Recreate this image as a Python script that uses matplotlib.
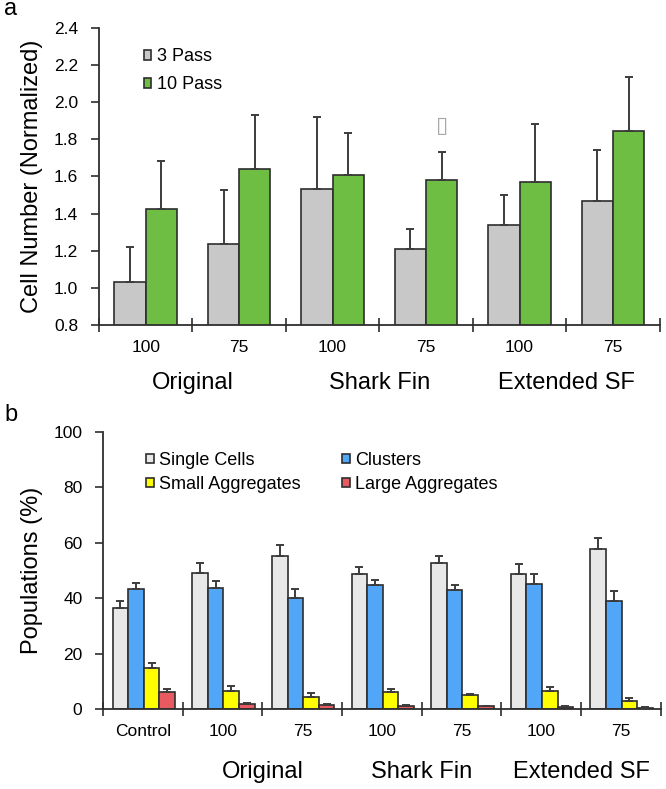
import matplotlib
matplotlib.use('Agg')
import matplotlib.pyplot as plt
from matplotlib.ticker import FixedLocator
import numpy as np

# ---- panel a data ----
a_ticks = ['100', '75', '100', '75', '100', '75']
a_groups = ['Original', 'Shark Fin', 'Extended SF']
pass3 = [1.03, 1.234, 1.53, 1.207, 1.339, 1.465]
pass3_err = [0.19, 0.29, 0.387, 0.112, 0.158, 0.277]
pass10 = [1.423, 1.641, 1.607, 1.578, 1.571, 1.845]
pass10_err = [0.26, 0.289, 0.225, 0.155, 0.31, 0.288]

# ---- panel b data ----
b_ticks = ['Control', '100', '75', '100', '75', '100', '75']
b_groups = ['Original', 'Shark Fin', 'Extended SF']
single = [36.3, 49.0, 55.0, 48.6, 52.8, 48.6, 57.7]
single_err = [2.8, 3.8, 4.3, 2.7, 2.4, 3.7, 4.0]
clusters = [43.3, 43.75, 39.9, 44.7, 42.8, 45.2, 39.1]
clusters_err = [2.0, 2.25, 3.4, 1.9, 2.0, 3.4, 3.3]
small_agg = [14.7, 6.6, 4.45, 6.25, 4.9, 6.6, 2.9]
small_agg_err = [2.0, 1.6, 1.45, 0.95, 0.5, 1.2, 1.1]
large_agg = [6.25, 1.7, 1.56, 1.1, 1.1, 0.6, 0.5]
large_agg_err = [0.95, 0.3, 0.15, 0.3, 0.1, 0.4, 0.05]

plt.rcParams['font.family'] = ['Liberation Sans', 'DejaVu Sans']

EDGE = '#2e2e2e'
ERR = '#3c3c3c'


def style_axis(ax, n, ylim, yticks, fmt):
    ax.spines['top'].set_visible(False)
    ax.spines['right'].set_visible(False)
    for s in ('left', 'bottom'):
        ax.spines[s].set_color(EDGE)
        ax.spines[s].set_linewidth(1.3)
    ax.set_xlim(-0.5, n - 0.5)
    ax.set_ylim(*ylim)
    ax.set_yticks(yticks)
    ax.set_yticklabels([fmt.format(v) for v in yticks])
    ax.tick_params(axis='y', direction='out', length=6, width=1.2,
                   color=EDGE, pad=9, labelsize=12.5)
    ax.set_xticks(np.arange(n))
    ax.tick_params(axis='x', which='major', length=0, pad=11, labelsize=12.5)
    ax.xaxis.set_minor_locator(FixedLocator(np.arange(n + 1) - 0.5))
    ax.tick_params(axis='x', which='minor', direction='inout', length=10,
                   width=1.2, color=EDGE)


def bar_series(ax, x, vals, errs, width, color):
    bars = ax.bar(x, vals, width, color=color, edgecolor=EDGE, linewidth=1.2, zorder=2)
    ax.errorbar(x, vals, yerr=[np.zeros(len(vals)), errs], fmt='none',
                ecolor=ERR, elinewidth=1.4, capsize=2.8, capthick=1.4, zorder=3)
    return bars


fig = plt.figure(figsize=(6.66, 7.89), dpi=100)

# ---- panel a ----
ax1 = fig.add_axes([0.1486, 0.588, 0.842, 0.377])
x = np.arange(len(a_ticks))
w = 0.335
h1 = bar_series(ax1, x - w / 2, pass3, pass3_err, w, '#c8c8c8')
h2 = bar_series(ax1, x + w / 2, pass10, pass10_err, w, '#6fbe44')
style_axis(ax1, len(a_ticks), (0.8, 2.4), np.arange(0.8, 2.41, 0.2), '{:.1f}')
ax1.set_xticklabels(a_ticks)
ax1.set_ylabel('Cell Number (Normalized)', fontsize=17)
ax1.yaxis.set_label_coords(-0.1, 0.5)
for i, g in enumerate(a_groups):
    ax1.text(2 * i + 0.5, -0.195, g, transform=ax1.get_xaxis_transform(),
             ha='center', va='center', fontsize=17)
# stray glyph above the Shark Fin 75 / 10 pass bar
ax1.text(3 + w / 2, 1.871, '\u25AF', ha='center', va='center', fontsize=16,
         color='#a8a8a8', family='DejaVu Sans')
ax1.legend([h1, h2], ['3 Pass', '10 Pass'], loc='upper left',
           bbox_to_anchor=(0.08, 0.93), frameon=False, fontsize=13,
           handlelength=0.42, handleheight=0.42, handletextpad=0.3,
           labelspacing=0.6, borderpad=0, borderaxespad=0)
fig.text(0.006, 0.988, 'a', fontsize=17, va='center', ha='left')

# ---- panel b ----
ax2 = fig.add_axes([0.155, 0.1014, 0.837, 0.3515])
x = np.arange(len(b_ticks))
w = 0.196
hb = []
for k, (vals, errs, col) in enumerate([(single, single_err, '#e8e8e8'),
                                       (clusters, clusters_err, '#52a6f7'),
                                       (small_agg, small_agg_err, '#ffff00'),
                                       (large_agg, large_agg_err, '#e65a60')]):
    hb.append(bar_series(ax2, x + (k - 1.5) * w + 0.01, vals, errs, w, col))
style_axis(ax2, len(b_ticks), (0, 100), np.arange(0, 101, 20), '{:.0f}')
ax2.set_xticklabels(b_ticks)
ax2.set_ylabel('Populations (%)', fontsize=17)
ax2.yaxis.set_label_coords(-0.108, 0.5)
for i, g in enumerate(b_groups):
    ax2.text(2 * i + 1.5, -0.227, g, transform=ax2.get_xaxis_transform(),
             ha='center', va='center', fontsize=17)
ax2.legend([hb[0], hb[2], hb[1], hb[3]],
           ['Single Cells', 'Small Aggregates', 'Clusters', 'Large Aggregates'],
           ncol=2, loc='upper left', bbox_to_anchor=(0.077, 0.927), frameon=False,
           fontsize=13, handlelength=0.42, handleheight=0.42, handletextpad=0.3,
           labelspacing=0.4, columnspacing=2.3, borderpad=0, borderaxespad=0)
fig.text(0.006, 0.474, 'b', fontsize=17, va='center', ha='left')

fig.savefig('out.png', dpi=100)
